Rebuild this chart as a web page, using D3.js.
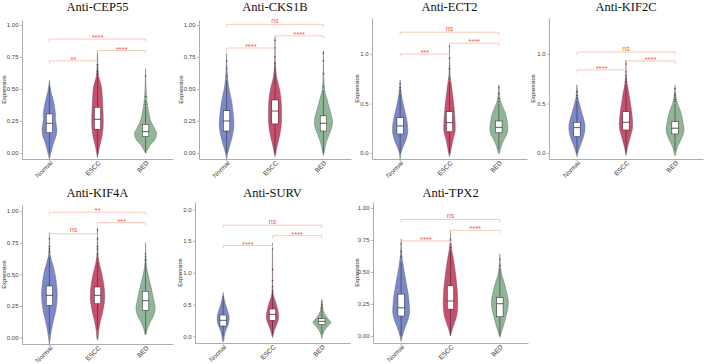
<!DOCTYPE html>
<html lang="en">

<head>
    <meta charset="UTF-8">
    <title>Violin plots - antibody expression</title>
    <script src="https://d3js.org/d3.v7.min.js"></script>
    <style>
        body { margin: 0; background: #fff; }
        .tick text { font-family: "Liberation Sans", Arial, sans-serif; }
    </style>
</head>

<body>
    <script>
        // ---- data ----
        var groups = ["Normal", "ESCC", "BED"];
        var groupColors = ["#7c89c9", "#c94f6e", "#90b597"];

        var panelTitles = ["Anti-CEP55", "Anti-CKS1B", "Anti-ECT2", "Anti-KIF2C",
            "Anti-KIF4A", "Anti-SURV", "Anti-TPX2"];

        var yDomains = [[-0.047, 1.039], [-0.047, 1.039], [-0.061, 1.364], [-0.061, 1.364],
            [-0.05, 1.047], [-0.105, 2.115], [-0.055, 1.047]];

        var yTickValues = [[0, 0.25, 0.5, 0.75, 1], [0, 0.25, 0.5, 0.75, 1], [0, 0.5, 1], [0, 0.5, 1],
            [0, 0.25, 0.5, 0.75, 1], [0, 0.5, 1, 1.5, 2], [0, 0.25, 0.5, 0.75, 1]];
        var yTickFormats = [".2f", ".2f", ".1f", ".1f", ".2f", ".1f", ".2f"];

        // [whisker low, Q1, median, Q3, whisker high] per panel, per group
        var boxStats = [
            [[0, 0.159, 0.232, 0.305, 0.52], [0, 0.185, 0.263, 0.357, 0.615], [0, 0.128, 0.167, 0.224, 0.368]],
            [[0, 0.172, 0.25, 0.33, 0.567], [0, 0.227, 0.328, 0.414, 0.69], [0, 0.172, 0.232, 0.29, 0.467]],
            [[0, 0.192, 0.273, 0.357, 0.605], [0, 0.215, 0.306, 0.417, 0.72], [0.03, 0.205, 0.259, 0.323, 0.5]],
            [[0, 0.165, 0.256, 0.31, 0.527], [0, 0.232, 0.31, 0.417, 0.69], [0.02, 0.192, 0.25, 0.316, 0.5]],
            [[0.03, 0.255, 0.334, 0.408, 0.637], [0.07, 0.268, 0.334, 0.4, 0.598], [0.03, 0.216, 0.292, 0.366, 0.59]],
            [[0, 0.163, 0.252, 0.335, 0.59], [0.02, 0.252, 0.346, 0.43, 0.7], [0.04, 0.183, 0.236, 0.277, 0.42]],
            [[0, 0.156, 0.22, 0.327, 0.58], [0, 0.21, 0.273, 0.392, 0.665], [0, 0.15, 0.252, 0.3, 0.525]]
        ];

        var outlierValues = [
            [[], [0.62, 0.64, 0.69], [0.38, 0.40, 0.44, 0.60]],
            [[0.60, 0.66, 0.72], [0.70, 0.75, 0.82, 0.88], [0.48, 0.52, 0.62, 0.72, 0.78]],
            [[0.63, 0.66, 0.70], [0.75, 0.85, 0.96, 1.08], [0.52, 0.55, 0.60, 0.66]],
            [[0.55, 0.58, 0.62], [0.72, 0.75, 0.78, 0.82, 0.90], [0.52, 0.54, 0.56, 0.58, 0.60, 0.65]],
            [[0.68, 0.70, 0.72, 0.78], [0.62, 0.66, 0.70, 0.72, 0.78, 0.85], [0.61, 0.62, 0.64, 0.66]],
            [[0.62], [0.72, 0.78, 0.88, 1.05, 1.38], [0.44, 0.47, 0.50, 0.54]],
            [[0.62, 0.66, 0.72], [0.69, 0.72, 0.75], [0.55, 0.60]]
        ];

        // violin outlines: [value, relative density]
        var violinShapes = [
            [
                [[-0.05, 0], [-0.02, 0.1], [0.03, 0.27], [0.08, 0.47], [0.13, 0.73], [0.18, 0.83], [0.26, 0.67], [0.31, 0.67], [0.42, 0.4], [0.47, 0.2], [0.52, 0.08], [0.57, 0]],
                [[-0.04, 0], [0, 0.1], [0.05, 0.23], [0.12, 0.47], [0.2, 0.63], [0.3, 0.63], [0.4, 0.57], [0.5, 0.47], [0.55, 0.33], [0.6, 0.13], [0.7, 0.05], [0.8, 0]],
                [[0, 0], [0.02, 0.17], [0.06, 0.5], [0.1, 1.0], [0.15, 1.23], [0.2, 0.93], [0.25, 0.57], [0.3, 0.4], [0.38, 0.2], [0.45, 0.1], [0.55, 0.04], [0.66, 0]]
            ],
            [
                [[-0.05, 0], [0, 0.13], [0.05, 0.33], [0.12, 0.6], [0.2, 0.8], [0.25, 0.8], [0.33, 0.7], [0.4, 0.57], [0.45, 0.43], [0.5, 0.27], [0.6, 0.1], [0.7, 0.03], [0.78, 0]],
                [[-0.03, 0], [0, 0.1], [0.04, 0.2], [0.1, 0.4], [0.18, 0.63], [0.25, 0.73], [0.33, 0.73], [0.42, 0.67], [0.5, 0.5], [0.55, 0.33], [0.6, 0.17], [0.7, 0.04], [0.8, 0.02], [0.91, 0]],
                [[-0.02, 0], [0, 0.07], [0.05, 0.2], [0.1, 0.4], [0.15, 0.67], [0.2, 0.93], [0.25, 1.0], [0.3, 0.87], [0.35, 0.67], [0.42, 0.4], [0.48, 0.17], [0.55, 0.07], [0.7, 0.02], [0.8, 0]]
            ],
            [
                [[-0.07, 0], [0, 0.1], [0.05, 0.27], [0.12, 0.6], [0.2, 0.83], [0.28, 0.83], [0.35, 0.7], [0.42, 0.53], [0.5, 0.33], [0.6, 0.13], [0.65, 0.07], [0.74, 0]],
                [[-0.04, 0], [0, 0.1], [0.08, 0.27], [0.15, 0.43], [0.22, 0.63], [0.3, 0.63], [0.4, 0.57], [0.5, 0.47], [0.6, 0.33], [0.7, 0.2], [0.75, 0.1], [0.9, 0.03], [1.11, 0]],
                [[-0.01, 0], [0, 0.07], [0.05, 0.2], [0.1, 0.4], [0.15, 0.67], [0.2, 0.93], [0.25, 1.0], [0.33, 0.9], [0.4, 0.73], [0.46, 0.47], [0.52, 0.2], [0.6, 0.07], [0.69, 0]]
            ],
            [
                [[-0.04, 0], [0, 0.1], [0.05, 0.27], [0.12, 0.57], [0.2, 0.83], [0.27, 0.9], [0.35, 0.73], [0.42, 0.5], [0.5, 0.27], [0.55, 0.13], [0.6, 0.07], [0.69, 0]],
                [[-0.03, 0], [0.04, 0.13], [0.1, 0.3], [0.18, 0.53], [0.25, 0.73], [0.33, 0.73], [0.42, 0.63], [0.5, 0.5], [0.6, 0.33], [0.7, 0.13], [0.8, 0.03], [0.94, 0]],
                [[-0.03, 0], [0, 0.1], [0.05, 0.23], [0.1, 0.47], [0.17, 0.83], [0.23, 1.0], [0.3, 0.9], [0.38, 0.73], [0.45, 0.5], [0.5, 0.27], [0.6, 0.07], [0.69, 0]]
            ],
            [
                [[-0.06, 0], [0, 0.1], [0.05, 0.2], [0.12, 0.4], [0.2, 0.67], [0.28, 0.83], [0.35, 0.87], [0.42, 0.8], [0.5, 0.63], [0.55, 0.47], [0.6, 0.27], [0.65, 0.1], [0.75, 0.03], [0.83, 0]],
                [[-0.02, 0], [0, 0.07], [0.05, 0.13], [0.12, 0.3], [0.2, 0.57], [0.28, 0.77], [0.35, 0.8], [0.42, 0.7], [0.5, 0.5], [0.55, 0.33], [0.6, 0.17], [0.65, 0.07], [0.75, 0.03], [0.87, 0]],
                [[0.02, 0], [0.03, 0.07], [0.07, 0.2], [0.12, 0.5], [0.17, 0.87], [0.23, 1.07], [0.3, 0.9], [0.38, 0.67], [0.45, 0.43], [0.5, 0.27], [0.55, 0.13], [0.65, 0.03], [0.75, 0]]
            ],
            [
                [[-0.09, 0], [-0.05, 0.1], [0, 0.13], [0.08, 0.27], [0.15, 0.47], [0.22, 0.63], [0.3, 0.67], [0.4, 0.5], [0.5, 0.27], [0.6, 0.1], [0.69, 0]],
                [[-0.02, 0], [0.05, 0.13], [0.12, 0.27], [0.2, 0.5], [0.27, 0.67], [0.35, 0.67], [0.45, 0.53], [0.55, 0.33], [0.65, 0.1], [0.8, 0.03], [1.1, 0.02], [1.47, 0]],
                [[-0.04, 0], [0.04, 0.13], [0.1, 0.33], [0.17, 0.73], [0.22, 1.0], [0.27, 0.73], [0.33, 0.4], [0.4, 0.17], [0.5, 0.07], [0.585, 0]]
            ],
            [
                [[-0.044, 0], [0, 0.13], [0.06, 0.4], [0.12, 0.73], [0.18, 0.93], [0.25, 0.9], [0.32, 0.8], [0.4, 0.6], [0.48, 0.4], [0.55, 0.23], [0.62, 0.1], [0.7, 0.03], [0.76, 0]],
                [[0, 0], [0.05, 0.2], [0.1, 0.43], [0.15, 0.67], [0.22, 0.8], [0.3, 0.8], [0.38, 0.73], [0.45, 0.63], [0.52, 0.5], [0.6, 0.33], [0.68, 0.13], [0.75, 0.03], [0.826, 0]],
                [[-0.01, 0], [0.02, 0.13], [0.08, 0.4], [0.15, 0.67], [0.22, 0.9], [0.28, 0.93], [0.35, 0.73], [0.42, 0.47], [0.48, 0.2], [0.55, 0.07], [0.644, 0]]
            ]
        ];

        // significance brackets: [group a, group b, height, label]
        var brackets = [
            [[0, 1, 0.72, "**"], [1, 2, 0.80, "****"], [0, 2, 0.89, "****"]],
            [[0, 1, 0.82, "****"], [1, 2, 0.915, "****"], [0, 2, 1.005, "ns"]],
            [[0, 1, 1.0, "***"], [1, 2, 1.11, "****"], [0, 2, 1.22, "ns"]],
            [[0, 1, 0.84, "****"], [1, 2, 0.93, "****"], [0, 2, 1.02, "ns"]],
            [[0, 1, 0.82, "ns"], [1, 2, 0.908, "***"], [0, 2, 0.99, "**"]],
            [[0, 1, 1.43, "****"], [1, 2, 1.585, "****"], [0, 2, 1.75, "ns"]],
            [[0, 1, 0.743, "****"], [1, 2, 0.826, "****"], [0, 2, 0.91, "ns"]]
        ];

        // ---- layout: axis box of each panel [x0, x1, yTop, yBottom, titleBaseline, ylabel offset] ----
        var frames = [
            [22, 173, 20, 159, 11, 18],
            [199, 351, 20, 159, 11, 18.5],
            [372, 527, 18, 159, 11, 15],
            [549, 703, 18, 159, 11, 16],
            [22, 173, 205, 344, 197, 18],
            [195, 350, 202, 343, 197, 15],
            [373, 528, 202, 343, 197, 16]
        ];

        var width = 706;
        var height = 364;

        var svg = d3.select("body")
            .append("svg")
            .attr("width", width)
            .attr("height", height);

        svg.append("rect")
            .attr("width", width)
            .attr("height", height)
            .attr("fill", "white");

        var wScale = d3.scaleLinear().domain([0, 1]).range([0, 9]);

        panelTitles.forEach(function (title, p) {
            var f = frames[p];
            var g = svg.append("g");

            var x = d3.scalePoint().domain(groups).range([f[0], f[1]]).padding(0.57);
            var y = d3.scaleLinear().domain(yDomains[p]).range([f[3], f[2]]);

            // title
            g.append("text")
                .attr("x", (f[0] + f[1]) / 2)
                .attr("y", f[4])
                .attr("text-anchor", "middle")
                .style("font-family", "'Liberation Serif', 'Times New Roman', serif")
                .style("font-size", "12.5px")
                .attr("fill", "#111")
                .text(title);

            // violins
            groups.forEach(function (grp, k) {
                var cx = x(grp);
                var area = d3.area()
                    .curve(d3.curveCatmullRom)
                    .y(function (d) { return y(d[0]); })
                    .x0(function (d) { return cx - wScale(d[1]); })
                    .x1(function (d) { return cx + wScale(d[1]); });

                g.append("path")
                    .datum(violinShapes[p][k])
                    .attr("d", area)
                    .attr("fill", groupColors[k])
                    .attr("stroke", "#5a5a5a")
                    .attr("stroke-width", 0.4);

                var b = boxStats[p][k];
                // whisker
                g.append("line")
                    .attr("x1", cx).attr("x2", cx)
                    .attr("y1", y(b[0])).attr("y2", y(b[4]))
                    .attr("stroke", "#222")
                    .attr("stroke-width", 0.5);

                // outliers
                g.selectAll(null)
                    .data(outlierValues[p][k])
                    .enter().append("circle")
                    .attr("cx", cx)
                    .attr("cy", function (d) { return y(d); })
                    .attr("r", 0.8)
                    .attr("fill", "#222")
                    .attr("opacity", 0.7);

                // box
                g.append("rect")
                    .attr("x", cx - 3.2)
                    .attr("width", 6.4)
                    .attr("y", y(b[3]))
                    .attr("height", y(b[1]) - y(b[3]))
                    .attr("fill", "white")
                    .attr("stroke", "#222")
                    .attr("stroke-width", 0.5);

                g.append("line")
                    .attr("x1", cx - 3.2).attr("x2", cx + 3.2)
                    .attr("y1", y(b[2])).attr("y2", y(b[2]))
                    .attr("stroke", "#111")
                    .attr("stroke-width", 0.7);
            });

            // significance brackets
            brackets[p].forEach(function (br) {
                var xa = x(groups[br[0]]);
                var xb = x(groups[br[1]]);
                var yy = y(br[2]);
                g.append("path")
                    .attr("d", "M" + xa + "," + (yy + 3) + "V" + yy + "H" + xb + "V" + (yy + 3))
                    .attr("fill", "none")
                    .attr("stroke", "#f7b3a4")
                    .attr("stroke-width", 0.7);
                g.append("text")
                    .attr("x", (xa + xb) / 2)
                    .attr("y", br[3] === "ns" ? yy - 1.5 : yy + 1)
                    .attr("text-anchor", "middle")
                    .style("font-family", "'Liberation Sans', Arial, sans-serif")
                    .style("font-size", br[3] === "ns" ? "7px" : "7.5px")
                    .attr("fill", "#ef5a48")
                    .text(br[3]);
            });

            // y axis
            var yAxis = g.append("g")
                .attr("transform", "translate(" + f[0] + ",0)")
                .call(d3.axisLeft(y)
                    .tickValues(yTickValues[p])
                    .tickFormat(d3.format(yTickFormats[p]))
                    .tickSize(2)
                    .tickSizeOuter(0)
                    .tickPadding(1.5));
            yAxis.select(".domain").attr("stroke", "#8a8a8a").attr("stroke-width", 0.7);
            yAxis.selectAll(".tick line").attr("stroke", "#8a8a8a").attr("stroke-width", 0.6);
            yAxis.selectAll(".tick text").style("font-size", "6px").attr("fill", "#444");

            // x axis
            var xAxis = g.append("g")
                .attr("transform", "translate(0," + f[3] + ")")
                .call(d3.axisBottom(x).tickSize(0).tickSizeOuter(0));
            xAxis.select(".domain").attr("stroke", "#8a8a8a").attr("stroke-width", 0.7);
            xAxis.selectAll(".tick text")
                .attr("x", 0).attr("y", 0).attr("dy", 0)
                .attr("transform", "translate(3,4.5) rotate(-45)")
                .style("text-anchor", "end")
                .style("font-size", "6.5px")
                .attr("fill", "#333");

            // y label
            g.append("text")
                .attr("transform", "translate(" + (f[0] - f[5] + 2) + "," + ((f[2] + f[3]) / 2) + ") rotate(-90)")
                .attr("text-anchor", "middle")
                .style("font-family", "'Liberation Sans', Arial, sans-serif")
                .style("font-size", "5.8px")
                .attr("fill", "#222")
                .text("Expression");
        });
    </script>
</body>

</html>
